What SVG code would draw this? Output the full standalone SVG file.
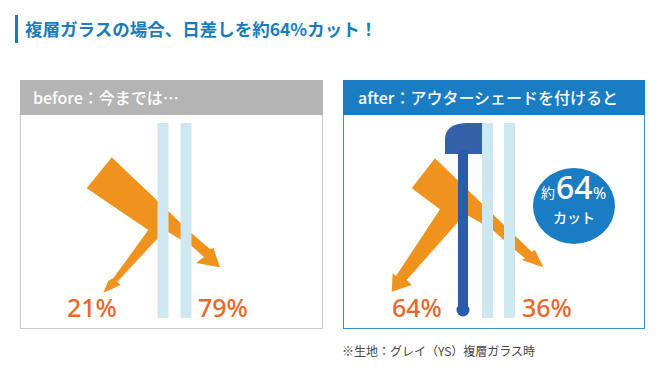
<svg xmlns="http://www.w3.org/2000/svg" width="667" height="373" viewBox="0 0 667 373">
<style>
  .jp { font-family: "Noto Sans CJK JP", "Noto Sans", sans-serif; }
  .hdr { font-family: "Noto Sans CJK JP", "Noto Sans", sans-serif; font-size: 16px; fill: #ffffff; font-weight: 500; }
  .pct { font-family: "Noto Sans", "Liberation Sans", sans-serif; font-size: 25px; fill: #e8682a; font-weight: 500; }
  .pane { fill: #cde8ef; }
  .beam { fill: #f0931e; }
</style>
<rect width="667" height="373" fill="#ffffff"/>

<g id="title">
  <rect x="15" y="15" width="3" height="28" fill="#1a7cba"/>
  <text x="25" y="36" class="jp" font-size="17.5" font-weight="700" fill="#1a7cba">複層ガラスの場合、日差しを約64%カット！</text>
</g>

<g id="panel-before">
  <rect x="20.5" y="80.5" width="302" height="248" fill="#ffffff" stroke="#c8c8c8" stroke-width="1"/>
  <rect x="20" y="80" width="303" height="35" fill="#b4b4b4"/>
  <text x="33" y="104" class="hdr">before：今までは…</text>
  <polygon class="beam" points="111.7,157.3 191,232.7 210,249 213.5,248 220,267.3 196,263 204,257 191,245.5 168,232 163,236 158,238 117.3,281.7 120.7,285 103.3,292.7 108.3,280.7 113.3,278.3 148.3,230 86.7,188.3"/>
  <rect class="pane" x="157.5" y="123" width="11" height="195"/>
  <rect class="pane" x="180.5" y="123" width="11" height="195"/>
  <text x="67" y="317" class="pct">21%</text>
  <text x="198" y="317" class="pct">79%</text>
</g>

<g id="panel-after">
  <rect x="343.5" y="80.5" width="301" height="248" fill="#ffffff" stroke="#3a8fcc" stroke-width="1"/>
  <rect x="343" y="80" width="302" height="35" fill="#1a7cc2"/>
  <text x="358" y="104" class="hdr">after：アウターシェードを付けると</text>
  <polygon class="beam" points="435,158.3 531.7,251.7 535,250 543.3,267.3 521.7,260 525,258.3 515,250 492.7,230 481.7,223.3 466.7,215 462,218 458,222 406.7,280 411.7,285 391.7,291.7 392.7,273.3 396,276 440,209.3 411.7,188.3"/>
  <rect class="pane" x="482" y="123" width="11" height="195"/>
  <rect class="pane" x="504" y="123" width="11" height="195"/>
  <g id="shade">
    <path d="M445,154 L445,138 Q446,124 466,123 L482,123 L482,154 Z" fill="#3461aa"/>
    <rect x="458" y="150" width="10" height="160" fill="#2b5cab"/>
    <circle cx="463" cy="310" r="6.5" fill="#2b5cab"/>
  </g>
  <text x="392" y="317" class="pct">64%</text>
  <text x="522" y="317" class="pct">36%</text>
</g>

<g id="badge">
  <ellipse cx="574" cy="206" rx="41" ry="38" fill="#1a7cc2"/>
  <text x="541" y="198" class="jp" font-size="14" fill="#ffffff">約</text>
  <text x="556" y="199" font-family="Noto Sans, Liberation Sans, sans-serif" font-size="32" font-weight="500" fill="#ffffff">64</text>
  <text x="593" y="199" font-family="Noto Sans, Liberation Sans, sans-serif" font-size="16" fill="#ffffff">%</text>
  <text x="574" y="223" class="jp" font-size="14" font-weight="500" fill="#ffffff" text-anchor="middle">カット</text>
</g>

<g id="note">
  <text x="342" y="356" class="jp" font-size="12" fill="#444444">※生地：グレイ（YS）複層ガラス時</text>
</g>
</svg>
